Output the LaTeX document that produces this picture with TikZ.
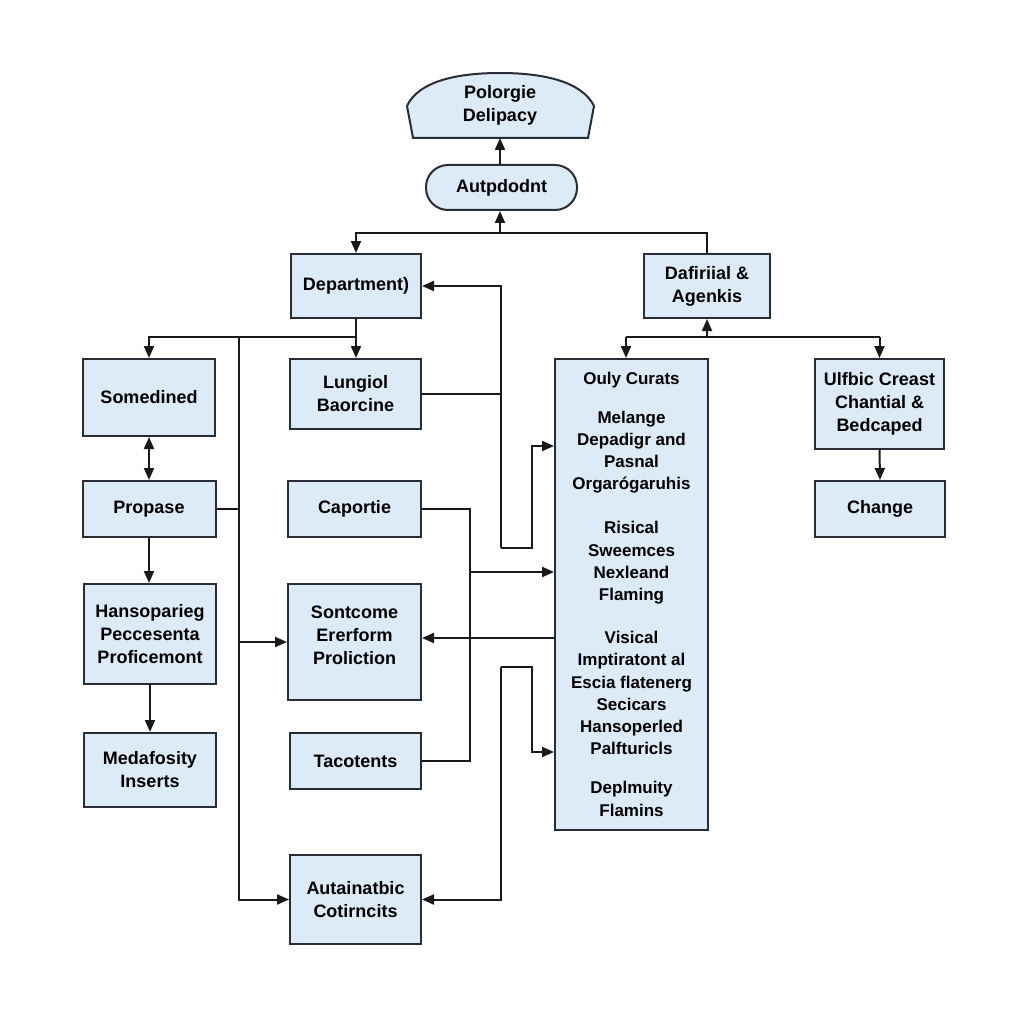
\documentclass[tikz,border=0pt]{standalone}
\usepackage{fontspec}
\setmainfont{Liberation Sans}
\usetikzlibrary{arrows.meta}
\definecolor{boxfill}{RGB}{221,235,249}
\definecolor{boxline}{RGB}{40,44,52}
\tikzset{
  box/.style={draw=boxline, fill=boxfill, line width=2pt, align=center,
    font=\bfseries\fontsize{18}{23}\selectfont, inner sep=2pt},
  conn/.style={draw=black!90, line width=2pt},
  arr/.style={conn, -{Triangle[length=12pt,width=10pt]}},
  arrb/.style={conn, {Triangle[length=12pt,width=10pt]}-{Triangle[length=12pt,width=10pt]}}
}
\begin{document}
\begin{tikzpicture}[x=1pt,y=-1pt]
\useasboundingbox[fill=white] (0,0) rectangle (1024,1024);

% top dome
\path[draw=boxline, fill=boxfill, line width=2pt]
  (413,138) -- (407,106) .. controls (418,82) and (455,73) .. (500,73)
  .. controls (545,73) and (582,82) .. (594,106) -- (588,138) -- cycle;
\node[align=center, font=\bfseries\fontsize{18}{23}\selectfont] (polo) at (500,105) {Polorgie\\Delipacy};
\coordinate (polob) at (500,138);

\node[box, rounded corners=22pt, minimum width=151pt, minimum height=45pt] (autp) at (501.5,187.5) {Autpdodnt};

\node[box, minimum width=130pt, minimum height=64pt] (dept) at (356,286) {Department)};
\node[box, minimum width=126pt, minimum height=64pt] (daf) at (707,286) {Dafiriial \&\\Agenkis};

\node[box, minimum width=132pt, minimum height=77pt] (somed) at (149,397.5) {Somedined};
\node[box, minimum width=133pt, minimum height=56pt] (prop) at (149,509) {Propase};
\node[box, minimum width=132pt, minimum height=100pt] (hans) at (150,634) {Hansoparieg\\Peccesenta\\Proficemont};
\node[box, minimum width=132pt, minimum height=74pt] (meda) at (150,770) {Medafosity\\Inserts};

\node[box, minimum width=131pt, minimum height=70pt] (lung) at (355.5,394) {Lungiol\\Baorcine};
\node[box, minimum width=133pt, minimum height=56pt] (capo) at (354.5,509) {Caportie};
\node[box, minimum width=133pt, minimum height=116pt, text depth=14pt] (sont) at (354.5,642) {Sontcome\\Ererform\\Proliction};
\node[box, minimum width=131pt, minimum height=56pt] (tacot) at (355.5,761) {Tacotents};
\node[box, minimum width=131pt, minimum height=89pt] (auta) at (355.5,899.5) {Autainatbic\\Cotirncits};

\node[box, minimum width=153pt, minimum height=471pt, font=\bfseries\fontsize{17}{22.2}\selectfont] (big) at (631.5,594.5)
 {Ouly Curats\\[16pt]
  Melange\\Depadigr and\\Pasnal\\Orgarógaruhis\\[22pt]
  Risical\\Sweemces\\Nexleand\\Flaming\\[21pt]
  Visical\\Imptiratont al\\Escia flatenerg\\Secicars\\Hansoperled\\Palfturicls\\[17pt]
  Deplmuity\\Flamins};

\node[box, minimum width=129pt, minimum height=90pt] (ulf) at (879.5,404) {Ulfbic Creast\\Chantial \&\\Bedcaped};
\node[box, minimum width=130pt, minimum height=56pt] (chg) at (880,509) {Change};

% top connectors
\coordinate (tj) at (500,233);
\draw[arr] (autp.north -| polob) -- (polob);
\draw[arr] (tj) -- (tj |- autp.south);
\draw[arr] (daf.north) |- (tj) -| (dept.north);

% department fan-out
\coordinate (dj) at (356,337);
\coordinate (lv) at (239,337);
\draw[conn] (dept.south) -- (dj);
\draw[arr] (dj) -- (dj |- lung.north);
\draw[arr] (dj) -| (somed.north);
\draw[arr] (lv) |- (auta.west);
\draw[conn] (prop.east) -- (prop.east -| lv);
\draw[arr] (lv |- sont.west) -- (sont.west);

% left column
\draw[arrb] (somed.south) -- (prop.north);
\draw[arr] (prop.south) -- (prop.south |- hans.north);
\draw[arr] (hans.south) -- (meda.north);

% middle-right connectors
\coordinate (m1) at (501,548);
\coordinate (m2) at (532,548);
\coordinate (m3) at (532,446);
\draw[arr] (m1) -- (m1 |- dept.east) -- (dept.east);
\draw[arr] (m1) -- (m2) -- (m3) -- (m3 -| big.west);
\draw[conn] (lung.east) -- (lung.east -| m1);

\coordinate (cv) at (470,572);
\draw[conn] (capo.east) -| (cv);
\draw[conn] (tacot.east) -| (cv);
\draw[arr] (cv) -- (cv -| big.west);

\coordinate (sj) at (555,638);
\draw[arr] (sj) -- (sj -| sont.east);

\coordinate (n1) at (501,667);
\coordinate (n2) at (532,667);
\coordinate (n3) at (532,752);
\draw[arr] (n1) -- (n2) -- (n3) -- (n3 -| big.west);
\draw[arr] (n1) |- (auta.east);

% right connectors
\coordinate (rj) at (707,337);
\coordinate (rl) at (626,337);
\coordinate (rr) at (879.5,337);
\draw[arr] (rj) -- (daf.south);
\draw[conn] (rl) -- (rr);
\draw[arr] (rl) -- (rl |- big.north);
\draw[arr] (rr) -- (ulf.north);
\draw[arr] (ulf.south) -- (chg.north);
\end{tikzpicture}
\end{document}
